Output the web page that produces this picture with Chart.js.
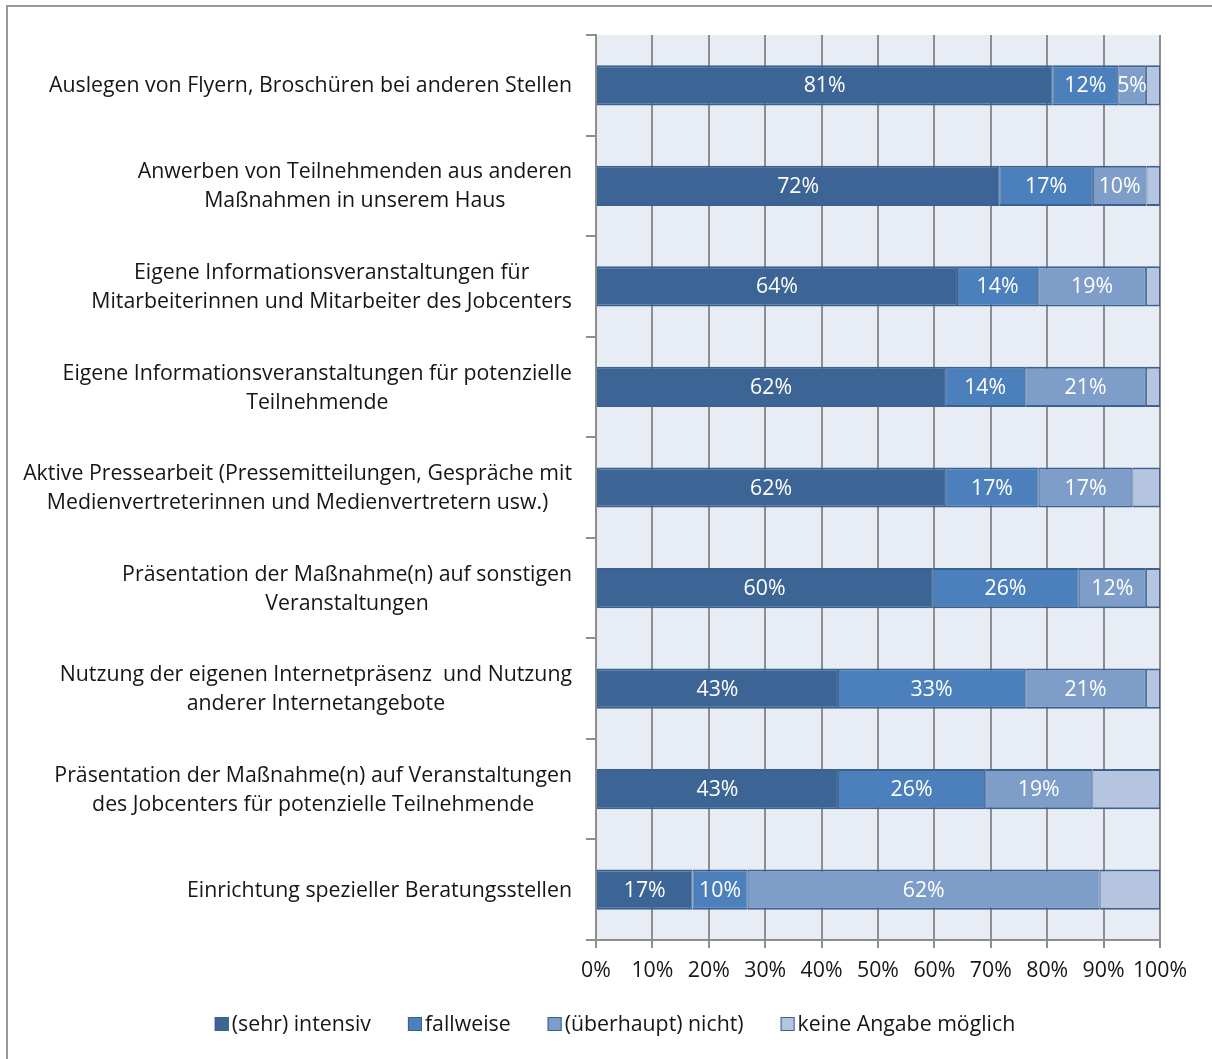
<!DOCTYPE html>
<html lang="de">
<head>
  <meta charset="UTF-8">
  <title>Wege der Teilnehmendengewinnung</title>
  <script src="https://cdn.jsdelivr.net/npm/chart.js"></script>
  <style>
    body {
      margin: 0;
      padding: 0;
      background: #fff;
    }
    #wrap {
      width: 1212px;
      height: 1059px;
      position: relative;
    }
  </style>
</head>
<body>
  <div id="wrap">
    <canvas id="chart" width="1212" height="1059"></canvas>
  </div>

  <script>
    const categories = [
      ['Auslegen von Flyern, Broschüren bei anderen Stellen'],
      ['Anwerben von Teilnehmenden aus anderen', 'Maßnahmen in unserem Haus'],
      ['Eigene Informationsveranstaltungen für', 'Mitarbeiterinnen und Mitarbeiter des Jobcenters'],
      ['Eigene Informationsveranstaltungen für potenzielle', 'Teilnehmende'],
      ['Aktive Pressearbeit (Pressemitteilungen, Gespräche mit', 'Medienvertreterinnen und Medienvertretern usw.)'],
      ['Präsentation der Maßnahme(n) auf sonstigen', 'Veranstaltungen'],
      ['Nutzung der eigenen Internetpräsenz  und Nutzung', 'anderer Internetangebote'],
      ['Präsentation der Maßnahme(n) auf Veranstaltungen', 'des Jobcenters für potenzielle Teilnehmende'],
      ['Einrichtung spezieller Beratungsstellen']
    ];

    const seriesNames = ['(sehr) intensiv', 'fallweise', '(überhaupt) nicht)', 'keine Angabe möglich'];

    const intensiv  = [80.9, 71.5, 64.0, 61.9, 61.9, 59.6, 42.9, 42.9, 17.1];
    const fallweise = [11.7, 16.6, 14.4, 14.2, 16.6, 26.0, 33.2, 26.1, 9.8];
    const nicht     = [4.9, 9.5, 19.1, 21.4, 16.6, 11.9, 21.4, 19.0, 62.4];
    const keineAng  = [2.5, 2.4, 2.5, 2.5, 4.9, 2.5, 2.5, 12.0, 10.7];

    const xTicks = [0, 10, 20, 30, 40, 50, 60, 70, 80, 90, 100];

    const colors = ['#3c6595', '#4c80bd', '#7f9dc9', '#b5c4df'];
    const edge = '#3a6190';
    const FONT = '"Open Sans", "Noto Sans", sans-serif';
    const FSIZE = 21.3;
    const textColor = '#161616';
    const gridColor = '#8e8e8e';

    // plot background + outer frame
    const backdrop = {
      id: 'backdrop',
      beforeDraw(chart) {
        const { ctx, chartArea: a } = chart;
        ctx.save();
        ctx.fillStyle = '#e8ecf4';
        ctx.fillRect(a.left, a.top, a.right - a.left, a.bottom - a.top);
        ctx.strokeStyle = '#9a9a9a';
        ctx.lineWidth = 2;
        ctx.strokeRect(7, 6, 1220, 1070);
        ctx.restore();
      }
    };

    // percentage labels inside the segments
    const segLabels = {
      id: 'segLabels',
      afterDatasetsDraw(chart) {
        const ctx = chart.ctx;
        ctx.save();
        ctx.font = FSIZE + 'px ' + FONT;
        ctx.fillStyle = '#ffffff';
        ctx.textAlign = 'center';
        ctx.textBaseline = 'middle';
        for (let i = 0; i < 3; i++) {
          const meta = chart.getDatasetMeta(i);
          meta.data.forEach((bar, j) => {
            const v = chart.data.datasets[i].data[j];
            ctx.fillText(Math.round(v) + '%', (bar.x + bar.base) / 2, bar.y + 1);
          });
        }
        ctx.restore();
      }
    };

    // category labels: block right-aligned, lines centered within the block
    const catLabels = {
      id: 'catLabels',
      afterDraw(chart) {
        const ctx = chart.ctx;
        const y = chart.scales.y;
        const right = 572;
        const lh = 29;
        ctx.save();
        ctx.font = FSIZE + 'px ' + FONT;
        ctx.fillStyle = textColor;
        ctx.textAlign = 'center';
        ctx.textBaseline = 'middle';
        categories.forEach((lines, j) => {
          const w = Math.max(...lines.map(l => ctx.measureText(l).width));
          const cx = right - w / 2;
          const cy = y.getPixelForValue(j) + 1 - (lines.length - 1) * lh / 2;
          lines.forEach((l, k) => ctx.fillText(l, cx, cy + k * lh));
        });
        ctx.restore();
      }
    };

    // legend drawn at the bottom
    const bottomLegend = {
      id: 'bottomLegend',
      afterDraw(chart) {
        const ctx = chart.ctx;
        const box = 14, gapText = 3, gapItem = 37, cy = 1024, center = 615;
        ctx.save();
        ctx.font = FSIZE + 'px ' + FONT;
        ctx.textBaseline = 'middle';
        ctx.textAlign = 'left';
        const widths = seriesNames.map(n => box + gapText + ctx.measureText(n).width);
        const total = widths.reduce((a, b) => a + b, 0) + gapItem * (widths.length - 1);
        let x = center - total / 2;
        seriesNames.forEach((n, i) => {
          ctx.fillStyle = colors[i];
          ctx.fillRect(x, cy - box / 2, box, box);
          ctx.strokeStyle = edge;
          ctx.lineWidth = 1;
          ctx.strokeRect(x + 0.5, cy - box / 2 + 0.5, box - 1, box - 1);
          ctx.fillStyle = textColor;
          ctx.fillText(n, x + box + gapText, cy + 1);
          x += widths[i] + gapItem;
        });
        ctx.restore();
      }
    };

    const values = [intensiv, fallweise, nicht, keineAng];

    const ctx = document.getElementById('chart').getContext('2d');
    const chart = new Chart(ctx, {
      type: 'bar',
      data: {
        labels: categories,
        datasets: values.map((d, i) => ({
          label: seriesNames[i],
          data: d,
          backgroundColor: colors[i],
          borderColor: edge,
          borderWidth: { top: 2, bottom: 2, left: 1, right: 1 },
          borderSkipped: false,
          barPercentage: 0.4,
          categoryPercentage: 1.0
        }))
      },
      options: {
        indexAxis: 'y',
        responsive: false,
        animation: false,
        layout: { padding: { left: 0, right: 52, top: 35, bottom: 0 } },
        plugins: {
          legend: { display: false },
          tooltip: { enabled: false }
        },
        scales: {
          x: {
            stacked: true,
            min: 0,
            max: 100,
            afterBuildTicks(scale) {
              scale.ticks = xTicks.map(v => ({ value: v }));
            },
            afterFit(scale) {
              scale.height = 119;
              scale.paddingLeft = 0;
              scale.paddingRight = 0;
            },
            ticks: {
              callback: v => v + '%',
              font: { family: FONT, size: FSIZE },
              color: textColor,
              padding: 10,
              maxRotation: 0,
              autoSkip: false
            },
            grid: {
              color: gridColor,
              lineWidth: 2,
              tickLength: 8,
              drawOnChartArea: true
            },
            border: { display: true, color: gridColor, width: 2 }
          },
          y: {
            stacked: true,
            offset: true,
            afterFit(scale) {
              scale.width = 596;
              scale.paddingTop = 0;
              scale.paddingBottom = 0;
            },
            ticks: { display: false },
            grid: {
              offset: true,
              drawOnChartArea: false,
              color: gridColor,
              lineWidth: 2,
              tickLength: 10
            },
            border: { display: true, color: gridColor, width: 2 }
          }
        }
      },
      plugins: [backdrop, segLabels, catLabels, bottomLegend]
    });
  </script>
</body>
</html>
